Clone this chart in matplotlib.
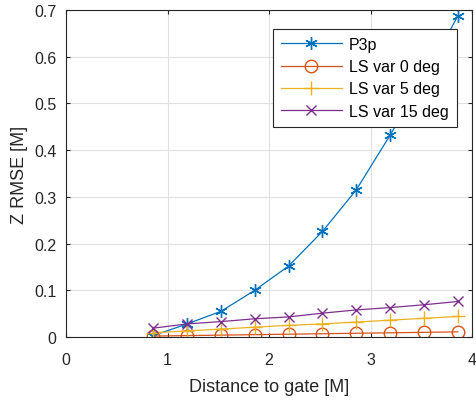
import matplotlib
matplotlib.use("Agg")
import matplotlib.pyplot as plt

plt.rcParams['font.family'] = ['Liberation Sans', 'DejaVu Sans']

distance = [0.86, 1.193, 1.527, 1.86, 2.193, 2.527, 2.86, 3.193, 3.527, 3.86]
p3p = [0.003, 0.028, 0.055, 0.100, 0.152, 0.226, 0.315, 0.432, 0.555, 0.687]
ls0 = [0.002, 0.003, 0.004, 0.005, 0.006, 0.007, 0.008, 0.009, 0.010, 0.011]
ls5 = [0.009, 0.013, 0.017, 0.021, 0.025, 0.028, 0.032, 0.036, 0.040, 0.044]
ls15 = [0.019, 0.028, 0.033, 0.039, 0.043, 0.051, 0.058, 0.063, 0.069, 0.076]
labels = ['P3p', 'LS var 0 deg', 'LS var 5 deg', 'LS var 15 deg']
colors = ['#0072BD', '#D95319', '#EDB120', '#7E2F8E']
xticks = [0, 1, 2, 3, 4]
yticks = [0, 0.1, 0.2, 0.3, 0.4, 0.5, 0.6, 0.7]

fig = plt.figure(figsize=(4.76, 4.02), dpi=100)
ax = fig.add_axes([66/476, 1-338/402, (472-66)/476, (338-11)/402])

ax.plot(distance, p3p, '-', marker=(6, 2, 0), color=colors[0], lw=0.9, ms=9, mew=1.0, label=labels[0])
ax.plot(distance, ls0, '-o', color=colors[1], lw=0.9, ms=9, mfc='none', mew=1.0, label=labels[1])
ax.plot(distance, ls5, '-+', color=colors[2], lw=0.9, ms=10, mew=1.0, label=labels[2])
ax.plot(distance, ls15, '-x', color=colors[3], lw=0.9, ms=7, mew=1.0, label=labels[3])

ax.set_xlim(0, 4)
ax.set_ylim(0, 0.7)
ax.set_xticks(xticks)
ax.set_yticks(yticks)
ax.set_xticklabels([str(t) for t in xticks])
ax.set_yticklabels(['0', '0.1', '0.2', '0.3', '0.4', '0.5', '0.6', '0.7'])
ax.grid(True, color='#e0e0e0', lw=0.8)
ax.set_axisbelow(True)
ax.tick_params(direction='in', top=True, right=True, length=3, labelsize=11.5, colors='#262626')
ax.tick_params(axis='x', pad=10.5)
ax.tick_params(axis='y', pad=7)
for s in ax.spines.values():
    s.set_color('#262626')
    s.set_linewidth(0.8)
ax.set_xlabel('Distance to gate [M]', fontsize=13, color='#262626', labelpad=8)
ax.set_ylabel('Z RMSE [M]', fontsize=13, color='#262626', labelpad=4)

leg = ax.legend(loc='upper left', bbox_to_anchor=((273-66)/406, (338-30)/327), fontsize=11.5,
                fancybox=False, edgecolor='#262626', framealpha=1, borderaxespad=0,
                handlelength=3.8, handletextpad=0.45, labelspacing=0.45, borderpad=0.5)
leg.get_frame().set_linewidth(0.8)

fig.savefig('out.png', dpi=100)
